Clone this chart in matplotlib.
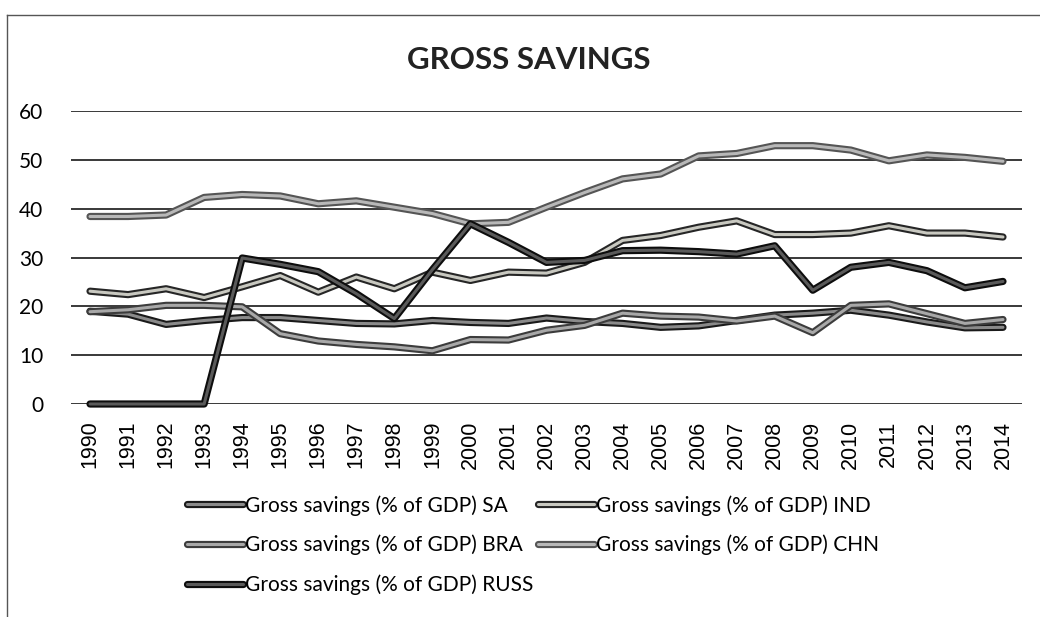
import matplotlib
matplotlib.use('Agg')
import matplotlib.pyplot as plt
import matplotlib.patheffects as pe
from matplotlib.lines import Line2D

# Gross savings (% of GDP)
years = list(range(1990, 2015))
sa = [19.0, 18.4, 16.3, 17.1, 17.7, 17.7, 17.1, 16.5, 16.4, 17.1, 16.7, 16.5, 17.6,
      16.9, 16.5, 15.7, 16.0, 17.1, 18.2, 18.6, 19.2, 18.2, 16.8, 15.6, 15.7]
ind = [23.1, 22.4, 23.6, 21.8, 24.0, 26.3, 22.9, 26.0, 23.6, 27.0, 25.3, 27.0, 26.8,
       29.0, 33.5, 34.5, 36.2, 37.5, 34.7, 34.7, 35.0, 36.5, 35.0, 35.0, 34.2]
bra = [18.9, 19.3, 20.2, 20.2, 19.9, 14.4, 12.9, 12.2, 11.7, 10.9, 13.2, 13.1, 15.1,
       16.1, 18.6, 18.0, 17.8, 17.0, 18.0, 14.6, 20.2, 20.5, 18.5, 16.5, 17.3]
chn = [38.4, 38.4, 38.7, 42.3, 42.9, 42.6, 41.0, 41.6, 40.3, 39.0, 36.9, 37.2, 40.3,
       43.3, 46.1, 47.1, 50.8, 51.3, 52.9, 52.9, 52.0, 49.8, 51.0, 50.5, 49.7]
russ = [0, 0, 0, 0, 29.9, 28.6, 27.1, 22.6, 17.5, 27.5, 36.9, 33.1, 29.0,
        29.4, 31.4, 31.5, 31.2, 30.7, 32.4, 23.3, 28.0, 29.0, 27.3, 23.8, 25.1]

labels = ['Gross savings (% of GDP) SA', 'Gross savings (% of GDP) IND',
          'Gross savings (% of GDP) BRA', 'Gross savings (% of GDP) CHN',
          'Gross savings (% of GDP) RUSS']
series = [sa, ind, bra, chn, russ]
inner = ['#8a8a8a', '#c8c8c0', '#a8a8a8', '#b8b8b8', '#5a5a5a']
outer = ['#1a1a1a', '#262626', '#3c3c3c', '#555555', '#0d0d0d']

W, H = 1040, 617
fig = plt.figure(figsize=(W / 100, H / 100), dpi=100)
ax = fig.add_axes([71 / W, 1 - 404 / H, 951 / W, 293 / H])

x = list(range(len(years)))
lines = []
for vals, lab, ci, co in zip(series, labels, inner, outer):
    ln, = ax.plot(x, vals, color=ci, lw=2.2, label=lab, clip_on=False,
                  solid_capstyle='round',
                  path_effects=[pe.Stroke(linewidth=5.2, foreground=co,
                                          capstyle='round'), pe.Normal()])
    lines.append(ln)

ax.set_xlim(-0.5, len(years) - 0.5)
ax.set_ylim(0, 60)
ax.set_yticks(range(0, 61, 10))
ax.yaxis.grid(True, color='#2a2a2a', lw=1.3)
ax.set_axisbelow(True)
for s in ax.spines.values():
    s.set_visible(False)
ax.set_xticks(x)
ax.set_xticklabels([str(y) for y in years], rotation=90, family='Liberation Sans',
                   fontsize=15.5)
for t in ax.get_yticklabels():
    t.set_family('Lato')
    t.set_fontsize(15)
ax.tick_params(axis='x', length=0, pad=12)
ax.tick_params(axis='y', length=0, pad=20)

fig.text(529 / W, 1 - 60 / H, 'GROSS SAVINGS', ha='center', va='center',
         family='Lato', fontweight='bold', fontsize=22.5, color='#222222')

leg_kw = dict(frameon=False, prop={'family': 'Lato', 'size': 15},
              handlelength=2.7, handletextpad=0.1, labelspacing=0.92,
              borderpad=0, borderaxespad=0, loc='upper left')
fig.legend([lines[0], lines[2], lines[4]], [labels[0], labels[2], labels[4]],
           bbox_to_anchor=(187 / W, 1 - 495 / H), **leg_kw)
fig.legend([lines[1], lines[3]], [labels[1], labels[3]],
           bbox_to_anchor=(538 / W, 1 - 495 / H), **leg_kw)

# scanned chart frame (left and top edges)
fig.add_artist(Line2D([7 / W, 7 / W], [0, 1 - 15 / H], transform=fig.transFigure,
                      color='#555555', lw=1))
fig.add_artist(Line2D([7 / W, 1], [1 - 15 / H, 1 - 15 / H], transform=fig.transFigure,
                      color='#555555', lw=1))

fig.savefig('out.png', dpi=100)
